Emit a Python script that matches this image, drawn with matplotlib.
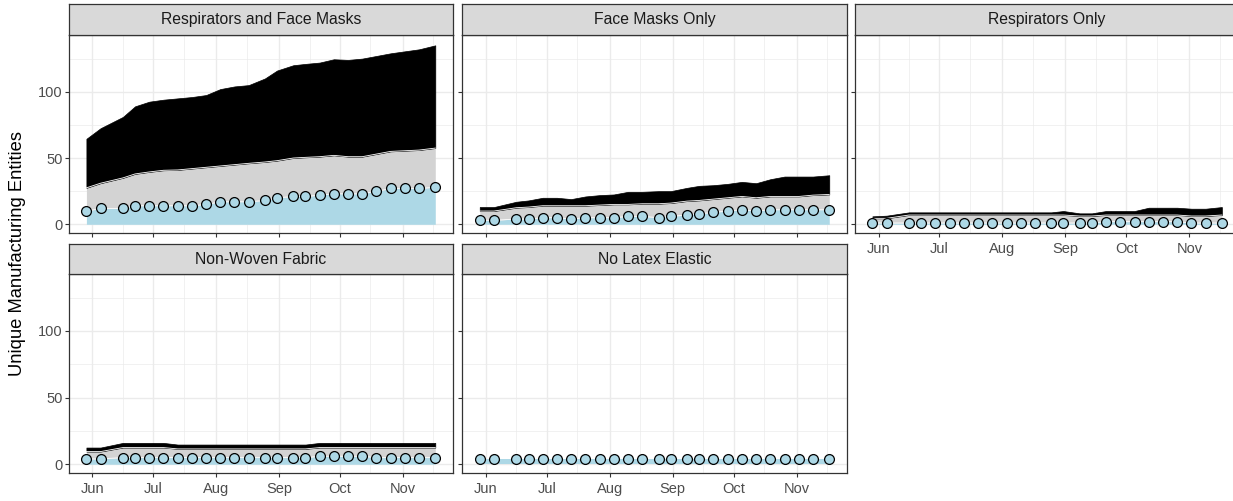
import matplotlib.pyplot as plt
import matplotlib.dates as mdates
import numpy as np
import pandas as pd

plt.rcParams['font.family'] = ['Liberation Sans', 'DejaVu Sans']

# weekly dates (2020)
dates = pd.to_datetime(['2020-05-29', '2020-06-05', '2020-06-16', '2020-06-22', '2020-06-29',
                        '2020-07-06', '2020-07-13', '2020-07-20', '2020-07-27', '2020-08-03',
                        '2020-08-10', '2020-08-17', '2020-08-25', '2020-08-31', '2020-09-08',
                        '2020-09-14', '2020-09-21', '2020-09-28', '2020-10-05', '2020-10-12',
                        '2020-10-19', '2020-10-26', '2020-11-02', '2020-11-09', '2020-11-17'])

titles = ["Respirators and Face Masks", "Face Masks Only", "Respirators Only",
          "Non-Woven Fabric", "No Latex Elastic"]

# points / light blue layer
rfm_pts = [10, 12, 12, 14, 14, 14, 14, 14, 15, 17, 17, 17, 18, 20, 21, 21, 22, 23, 23, 23, 25, 27, 27, 27, 28]
fm_pts = [3, 3, 4, 4, 5, 5, 4, 5, 5, 5, 6, 6, 5, 6, 7, 8, 9, 10, 11, 10, 11, 11, 11, 11, 11]
r_pts = [1, 1, 1, 1, 1, 1, 1, 1, 1, 1, 1, 1, 1, 1, 1, 1, 2, 2, 2, 2, 2, 2, 1, 1, 1]
nwf_pts = [4, 4, 5, 5, 5, 5, 5, 5, 5, 5, 5, 5, 5, 5, 5, 5, 6, 6, 6, 6, 5, 5, 5, 5, 5]
nle_pts = [4] * 25

# top of grey layer
rfm_grey = [27.5, 31, 35, 38, 39.5, 40.75, 41, 42, 43, 44, 45, 46, 47, 48, 50, 50.5, 51, 52, 51, 51, 53, 55, 55.5, 56, 57.5]
fm_grey = [10, 10, 12.5, 13, 14, 14, 14, 14, 14.5, 15, 15, 15.5, 15.5, 16, 17.5, 18, 19, 20, 21, 20, 21, 21, 21, 22, 22.5]
r_grey = [4.5, 4.5, 7, 7, 7, 7, 7, 7, 7, 7, 7, 7, 7, 7, 6.25, 6.25, 7, 7, 7, 7, 7, 7, 6.25, 6.25, 7]
nwf_grey = [9.5, 9.5, 12.5, 12.5, 12.5, 12.5, 11.5, 11.5, 11.5, 11.5, 11.5, 11.5, 11.5, 11.5, 11.5, 11.5, 12.5, 12.5, 12.5, 12.5, 12.5, 12.5, 12.5, 12.5, 12.5]
nle_grey = nle_pts

# top of black layer
rfm_black = [64.5, 72.5, 81, 89, 92.5, 94, 95, 96, 97.5, 102, 104, 105, 110, 116, 120, 121, 122, 124.5, 124, 125, 127, 129, 130.5, 132, 135]
fm_black = [13, 13, 17, 18, 20, 20, 19, 21, 22, 22.5, 24.5, 24.5, 25, 25, 27.5, 29, 29.5, 30.5, 32, 31, 34, 36, 36, 36, 37]
r_black = [6, 6.5, 9, 9, 9, 9, 9, 9, 9, 9, 9, 9, 9, 10, 8.25, 8.25, 10, 10, 10, 12.5, 12.5, 12.5, 11.75, 11.75, 13]
nwf_black = [12.5, 12.5, 16, 16, 16, 16, 14.75, 14.75, 14.75, 14.75, 14.75, 14.75, 14.75, 14.75, 14.75, 14.75, 16, 16, 16, 16, 16, 16, 16, 16, 16]
nle_black = nle_pts

pts_all = [rfm_pts, fm_pts, r_pts, nwf_pts, nle_pts]
grey_all = [rfm_grey, fm_grey, r_grey, nwf_grey, nle_grey]
black_all = [rfm_black, fm_black, r_black, nwf_black, nle_black]

W, H = 1233, 501
fig = plt.figure(figsize=(W / 100, H / 100), dpi=100)

def box(x0, y0, x1, y1):
    return [x0 / W, 1 - y1 / H, (x1 - x0) / W, (y1 - y0) / H]

cols = [(69, 452.7), (462.3, 846.7), (855, 1239.3)]
rows = [(35, 233.3), (273.8, 473.3)]
strips = [(4, 35), (244.3, 273.8)]

xlim = (pd.Timestamp('2020-05-20 10:00'), pd.Timestamp('2020-11-25 14:00'))
dark = '#333333'

for i, title in enumerate(titles):
    r, c = divmod(i, 3)
    ax = fig.add_axes(box(cols[c][0], rows[r][0], cols[c][1], rows[r][1]))
    sx = fig.add_axes(box(cols[c][0], strips[r][0], cols[c][1], strips[r][1]))

    pts = np.array(pts_all[i], dtype=float)
    grey = np.array(grey_all[i], dtype=float)
    black = np.array(black_all[i], dtype=float)

    ax.fill_between(dates, 0, pts, color='#ADD8E6', lw=0, zorder=2)
    if np.any(grey > pts):
        ax.fill_between(dates, pts, grey, color='#D3D3D3', lw=0, zorder=2)
    if np.any(black > grey):
        ax.fill_between(dates, grey, black, color='black', lw=0.5, edgecolor='black', zorder=2)
        ax.plot(dates, grey, color='white', lw=0.6, zorder=3)
        ax.plot(dates, pts, color='white', lw=0.6, zorder=3)
    ax.scatter(dates, pts, s=50, facecolor='#ADD8E6', edgecolor='black', linewidth=0.9, zorder=4)

    ax.set_xlim(xlim)
    ax.set_ylim(-6.8, 142.8)
    ax.set_yticks([0, 50, 100])
    ax.set_yticks([25, 75, 125], minor=True)
    ax.xaxis.set_major_locator(mdates.MonthLocator())
    ax.xaxis.set_minor_locator(mdates.MonthLocator(bymonthday=16))
    ax.xaxis.set_major_formatter(mdates.DateFormatter('%b'))
    ax.set_axisbelow(True)
    ax.grid(which='major', color='#EBEBEB', lw=1.0, zorder=0)
    ax.grid(which='minor', color='#EBEBEB', lw=0.5, zorder=0)
    ax.tick_params(which='major', length=3, width=0.8, color=dark, labelsize=10.5,
                   labelcolor='#4D4D4D')
    ax.tick_params(axis='x', pad=3.5)
    ax.tick_params(axis='y', pad=1.8)
    ax.tick_params(which='minor', length=0)
    for sp in ax.spines.values():
        sp.set_color(dark)
        sp.set_linewidth(0.9)
    if c != 0:
        ax.tick_params(axis='y', labelleft=False)
    if r == 0 and c != 2:
        ax.tick_params(axis='x', labelbottom=False)

    sx.set_facecolor('#D9D9D9')
    sx.set_xticks([])
    sx.set_yticks([])
    for sp in sx.spines.values():
        sp.set_color(dark)
        sp.set_linewidth(0.9)
    sx.text(0.5, 0.5, title, ha='center', va='center', fontsize=11.3, color='#1A1A1A',
            transform=sx.transAxes)

fig.text(18 / W, 1 - 254 / H, "Unique Manufacturing Entities", rotation=90,
         ha='center', va='center', fontsize=13.2, color='black')

plt.savefig("out.png", dpi=100)
